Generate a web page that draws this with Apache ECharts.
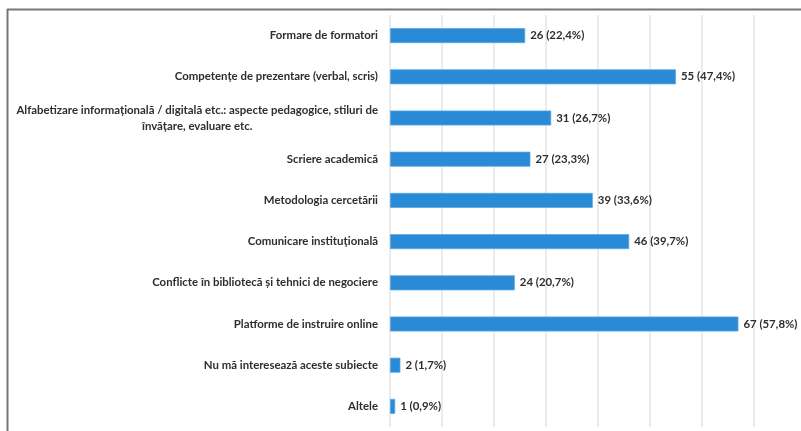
<!DOCTYPE html>
<html>
<head>
<meta charset="utf-8">
<script src="https://cdn.jsdelivr.net/npm/echarts@6/dist/echarts.min.js"></script>
<style>
  html, body { margin: 0; padding: 0; background: #ffffff; }
  #chart { width: 801px; height: 431px; }
</style>
</head>
<body>
<div id="chart"></div>
<script>
const categories = [
  "Formare de formatori",
  "Competențe de prezentare (verbal, scris)",
  "Alfabetizare informațională / digitală etc.: aspecte pedagogice, stiluri de\nînvățare, evaluare etc.",
  "Scriere academică",
  "Metodologia cercetării",
  "Comunicare instituțională",
  "Conflicte în bibliotecă și tehnici de negociere",
  "Platforme de instruire online",
  "Nu mă interesează aceste subiecte",
  "Altele"
];
const counts = [26, 55, 31, 27, 39, 46, 24, 67, 2, 1];
const percents = ["22,4%", "47,4%", "26,7%", "23,3%", "33,6%", "39,7%", "20,7%", "57,8%", "1,7%", "0,9%"];

const FONT = "Lato, 'Open Sans', sans-serif";
const FS = 11.4;
const chart = echarts.init(document.getElementById('chart'), null, { renderer: 'canvas' });

chart.setOption({
  animation: false,
  backgroundColor: '#ffffff',
  grid: { left: 390, right: 47, top: 15, bottom: 4, containLabel: false },
  xAxis: {
    type: 'value',
    min: 0,
    max: 70,
    interval: 10,
    axisLabel: { show: false },
    axisLine: { show: false },
    axisTick: { show: false },
    splitLine: { show: true, lineStyle: { color: '#e6e6e6', width: 1.5 } }
  },
  yAxis: {
    type: 'category',
    inverse: true,
    data: categories,
    axisLine: { show: false },
    axisTick: { show: false },
    axisLabel: {
      margin: 12,
      color: '#2e2e2e',
      fontFamily: FONT,
      fontSize: FS,
      fontWeight: 'bold',
      lineHeight: 16,
      formatter: function (v) {
        const lines = v.split('\n');
        if (lines.length === 1) return v;
        return lines.map(l => '{c|' + l + '}').join('\n');
      },
      rich: {
        c: { align: 'center', fontFamily: FONT, fontSize: FS, fontWeight: 'bold', color: '#2e2e2e', lineHeight: 16 }
      }
    }
  },
  series: [{
    type: 'bar',
    data: counts,
    barWidth: 15,
    itemStyle: { color: '#2a8ad6', borderColor: '#5aa8e4', borderWidth: 0.8 },
    label: {
      show: true,
      position: 'right',
      distance: 5,
      color: '#2e2e2e',
      fontFamily: FONT,
      fontSize: FS,
      fontWeight: 'bold',
      formatter: function (p) { return counts[p.dataIndex] + ' (' + percents[p.dataIndex] + ')'; }
    }
  }],
  graphic: [
    { type: 'line', shape: { x1: 7, y1: 9.5, x2: 801, y2: 9.5 }, style: { stroke: '#777777', lineWidth: 2 }, silent: true },
    { type: 'line', shape: { x1: 7.5, y1: 9, x2: 7.5, y2: 431 }, style: { stroke: '#777777', lineWidth: 2 }, silent: true }
  ]
});
</script>
</body>
</html>
